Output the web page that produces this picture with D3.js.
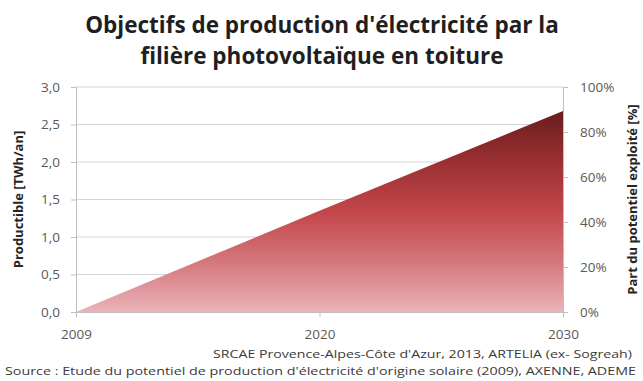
<!DOCTYPE html>
<html>
<head>
<meta charset="utf-8">
<script src="https://cdn.jsdelivr.net/npm/d3@7"></script>
<style>
  html, body { margin: 0; padding: 0; background: #fff; }
  svg { display: block; font-family: "Open Sans", sans-serif; }
</style>
</head>
<body>
<svg id="chart" width="643" height="381"></svg>
<script>
// Production targets for rooftop photovoltaics (TWh/an)
const years = ["2009", "2020", "2030"];
const production = [0, 1.35, 2.68];
const leftTicks = [0, 0.5, 1, 1.5, 2, 2.5, 3];
const rightTicks = [0, 0.2, 0.4, 0.6, 0.8, 1];
const titleLines = [
  "Objectifs de production d'électricité par la",
  "filière photovoltaïque en toiture"
];
const sourceLines = [
  "SRCAE Provence-Alpes-Côte d'Azur, 2013, ARTELIA (ex- Sogreah)",
  "Source : Etude du potentiel de production d'électricité d'origine solaire (2009), AXENNE, ADEME"
];

const svg = d3.select("#chart");
const plot = { left: 76, right: 563, top: 87, bottom: 312 };

const x = d3.scalePoint().domain(years).range([plot.left, plot.right]);
const y = d3.scaleLinear().domain([0, 3]).range([plot.bottom, plot.top]);
const yRight = d3.scaleLinear().domain([0, 1]).range([plot.bottom, plot.top]);

// Vertical red gradient for the area
const defs = svg.append("defs");
const grad = defs.append("linearGradient")
  .attr("id", "areaGrad")
  .attr("x1", 0).attr("y1", 0).attr("x2", 0).attr("y2", 1);
[
  [0, "#6a1c1d"],
  [0.25, "#9a3032"],
  [0.5, "#c2464a"],
  [0.75, "#d4777c"],
  [1, "#eab3b8"]
].forEach(([o, c]) => grad.append("stop").attr("offset", o).attr("stop-color", c));

// Gridlines
svg.append("g")
  .selectAll("line")
  .data(leftTicks.filter(d => d > 0))
  .join("line")
  .attr("x1", plot.left).attr("x2", plot.right)
  .attr("y1", d => y(d)).attr("y2", d => y(d))
  .attr("stroke", "#d4d4d4").attr("stroke-width", 1);

// Area
const area = d3.area()
  .x((d, i) => x(years[i]))
  .y0(y(0))
  .y1(d => y(d));
svg.append("path")
  .datum(production)
  .attr("d", area)
  .attr("fill", "url(#areaGrad)");

const axisColor = "#bfbfbf";
const tickColor = "#595959";

// Left axis
const leftAxis = svg.append("g")
  .attr("transform", `translate(${plot.left},0)`)
  .call(d3.axisLeft(y).tickValues(leftTicks).tickSize(5).tickPadding(11)
    .tickFormat(d => d3.format(".1f")(d).replace(".", ",")));
// Right axis
const rightAxis = svg.append("g")
  .attr("transform", `translate(${plot.right},0)`)
  .call(d3.axisRight(yRight).tickValues(rightTicks).tickSize(5).tickPadding(12)
    .tickFormat(d3.format(".0%")));
// Bottom axis
const bottomAxis = svg.append("g")
  .attr("transform", `translate(0,${plot.bottom})`)
  .call(d3.axisBottom(x).tickSize(5).tickPadding(12));

[leftAxis, rightAxis, bottomAxis].forEach(g => {
  g.select(".domain").attr("stroke", axisColor);
  g.selectAll(".tick line").attr("stroke", axisColor);
  g.selectAll(".tick text")
    .attr("fill", tickColor)
    .attr("font-size", 13.5)
    .attr("font-family", "Open Sans, sans-serif");
});

// Axis titles
svg.append("text")
  .attr("transform", `translate(23,${(plot.top + plot.bottom) / 2}) rotate(-90)`)
  .attr("text-anchor", "middle")
  .attr("font-size", 13).attr("font-weight", "bold").attr("fill", "#262626")
  .text("Productible [TWh/an]");
svg.append("text")
  .attr("transform", `translate(637,${(plot.top + plot.bottom) / 2}) rotate(-90)`)
  .attr("text-anchor", "middle")
  .attr("font-size", 13).attr("font-weight", "bold").attr("fill", "#262626")
  .text("Part du potentiel exploité [%]");

// Title
svg.append("g")
  .selectAll("text")
  .data(titleLines)
  .join("text")
  .attr("x", 322)
  .attr("y", (d, i) => 33 + i * 31)
  .attr("text-anchor", "middle")
  .attr("font-size", 22.5).attr("font-weight", "bold").attr("fill", "#1f1f1f")
  .text(d => d);

// Source notes
svg.append("text")
  .attr("x", 632).attr("y", 358)
  .attr("text-anchor", "end")
  .attr("font-size", 11).attr("fill", "#3a3a3a")
  .attr("textLength", 419).attr("lengthAdjust", "spacingAndGlyphs")
  .text(sourceLines[0]);
svg.append("text")
  .attr("x", 5).attr("y", 375)
  .attr("font-size", 11).attr("fill", "#3a3a3a")
  .attr("textLength", 631).attr("lengthAdjust", "spacingAndGlyphs")
  .text(sourceLines[1]);
</script>
</body>
</html>
